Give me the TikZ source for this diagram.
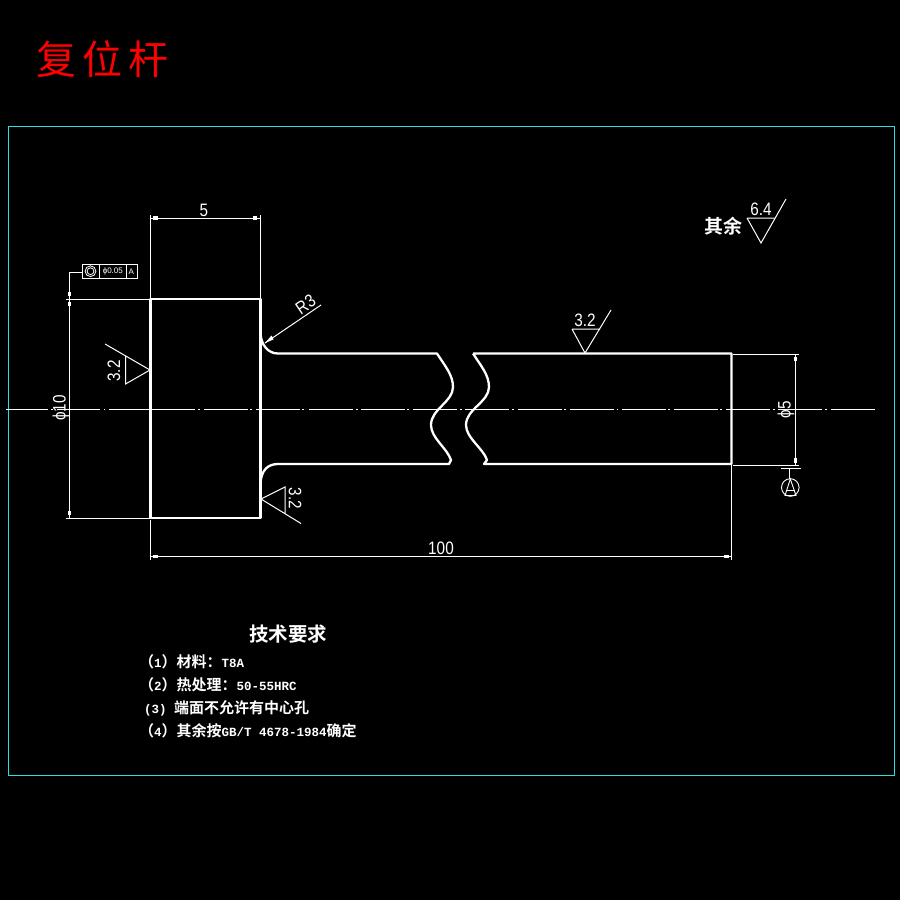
\documentclass[tikz,border=0pt]{standalone}
\usepackage{fontspec}
\setmainfont{Liberation Sans}
\newfontfamily\zh{Noto Sans CJK SC}[BoldFont=Noto Sans CJK SC Bold]
\newfontfamily\mn{Liberation Mono}[BoldFont=Liberation Mono Bold]
\newfontfamily\cad{Liberation Sans}[FakeStretch=0.85]
\newcommand{\cadfs}{\fontsize{18}{18}\selectfont\cad}
\definecolor{framecy}{RGB}{40,225,225}
\usetikzlibrary{calc}
\tikzset{
  thinl/.style={draw=white,line width=1pt},
  thick2/.style={draw=white,line width=2.3pt,line join=round},
  tick/.style={fill=white,draw=none,minimum width=3.4pt,minimum height=4.6pt,inner sep=0pt},
  cadtxt/.style={white,inner sep=0pt,font=\cadfs},
  item/.style={white,inner sep=0pt,anchor=base west,font=\fontsize{15}{15}\selectfont\zh\bfseries}
}
\newcommand{\mnb}[1]{{\fontsize{12.5}{12.5}\selectfont\mn\bfseries #1}}
\begin{document}
\begin{tikzpicture}[x=1pt,y=-1pt]
\path[fill=black] (0,0) rectangle (900,900);
\useasboundingbox (0,0) rectangle (900,900);
% frame
\draw[draw=framecy,line width=1pt] (8,126) rectangle (894,775);
% title
\node[red,inner sep=0,anchor=center,font=\fontsize{40}{40}\selectfont\zh] (title) at (102,59) {复\hspace{6pt}位\hspace{6pt}杆};
% centre line
\draw[thinl] (6,409) -- (48,409) (57,409) -- (100,409) (109,409) -- (195,409);
\foreach \s in {204,256,309,361,413,465,518,570,622,674,726,778,831}
  \draw[thinl] (\s,409) -- ++(43.5,0);
\foreach \s in {52,104.5,199,251,303,357,408,461,513,565,617.5,669,721,774,826}
  \fill[white] (\s-0.8,408.5) rectangle (\s+0.8,409.5);
% part outline
\draw[thick2] (150.5,299) rectangle (260.5,518);
\draw[thick2] (260.5,333) .. controls (261,345) and (268,353.5) .. (278,353.5) -- (437,353.5)
  .. controls (445,366) and (453,375) .. (453,387)
  .. controls (453,402) and (431,409) .. (431,425)
  .. controls (431,438) and (447,448) .. (451,460) -- (449,464) -- (278,464);
\draw[thick2] (278,464) .. controls (268,464) and (261,470) .. (260.5,484);
\draw[thick2] (473,353.5) -- (731.5,353.5) -- (731.5,464) -- (484,464) -- (487,460)
  .. controls (483,448) and (466,438) .. (466,425)
  .. controls (466,409) and (489,402) .. (489,387)
  .. controls (489,375) and (481,366) .. (473,353.5);
% dim 5
\draw[thinl] (150.5,298) -- (150.5,215) (260.5,298) -- (260.5,215) (150.5,218) -- (260.5,218);
\node[tick,rotate=90] (t1) at (155.5,218) {};
\node[tick,rotate=90] (t2) at (255,218) {};
\node[cadtxt] (d5) at (204,210) {5};
% dim phi10
\draw[thinl] (66,299) -- (150,299) (66,518) -- (150,518);
\draw[thinl] (82,272) -- (69.5,272) -- (69.5,518);
\node[tick] (t3) at (69.5,294) {};
\node[tick] (t4) at (69.5,304) {};
\node[tick] (t5) at (69.5,513) {};
\node[cadtxt,rotate=90] (d10) at (61,408) {ϕ10};
% feature frame
\draw[thinl] (82,264.5) rectangle (137,278) (99.5,264.5) -- (99.5,278) (126,264.5) -- (126,278);
\draw[white,line width=0.8pt] (90.5,271.2) circle (5.4) (90.5,271.2) circle (3.4);
\node[white,inner sep=0,font=\fontsize{8}{8}\selectfont] (tol) at (112.8,271.3) {ϕ0.05};
\node[white,inner sep=0,font=\fontsize{8}{8}\selectfont] (tola) at (131.3,271.3) {A};
% R3
\draw[thinl] (321,305) -- (265,343);
\fill[white] (265,343) -- (271.5,335.5) -- (273.5,339.5) -- cycle;
\node[cadtxt,rotate=34] (r3) at (305.5,304.5) {R3};
% roughness left
\draw[thinl] (105,344) -- (150,370) -- (125.5,384) -- (125.5,356);
\node[cadtxt,rotate=90] (s1) at (114,371) {3.2};
% roughness bottom
\draw[thinl] (301,523.5) -- (261,499) -- (285,487) -- (285,514);
\node[cadtxt,rotate=-90] (s2) at (295,498.5) {3.2};
% roughness top
\draw[thinl] (572,329) -- (600,329) (572,329) -- (585,353) -- (611,310);
\node[cadtxt] (s3) at (585,320) {3.2};
% roughness 6.4
\draw[thinl] (747,218) -- (774,218) (747,218) -- (761,243) -- (786,199);
\node[cadtxt] (s4) at (761,209) {6.4};
\node[white,inner sep=0,font=\fontsize{19}{19}\selectfont\zh\bfseries] (qy) at (723.5,226) {其余};
% dim phi5
\draw[thinl] (733,354.5) -- (799,354.5) (733,465) -- (799,465) (795.5,354.5) -- (795.5,465);
\node[tick] (t6) at (795.5,359) {};
\node[tick] (t7) at (795.5,460.5) {};
\node[cadtxt,rotate=90] (d6) at (786,410) {ϕ5};
% datum
\draw[thinl] (781,468.5) -- (801,468.5) (789.7,468.5) -- (789.7,479);
\draw[white,line width=0.9pt] (790.3,487.5) circle (8.8);
\draw[white,line width=0.9pt] (790.3,479) -- (785,495.5) -- (796,495.5) -- cycle (786.5,490.5) -- (794.5,490.5);
% dim 100
\draw[thinl] (150.5,520) -- (150.5,560) (731.5,465) -- (731.5,560) (150.5,556.5) -- (731.5,556.5);
\node[tick,rotate=90] (t8) at (155.5,556.5) {};
\node[tick,rotate=90] (t9) at (726.5,556.5) {};
\node[cadtxt] (d100) at (441,548) {100};
% notes
\node[white,inner sep=0,font=\fontsize{19.5}{19.5}\selectfont\zh\bfseries] (tr) at (288,634.5) {技术要求};
\node[item] (n1) at (139,667.5) {（\mnb{1}）材料：\mnb{T8A}};
\node[item] (n2) at (139,690.5) {（\mnb{2}）热处理：\mnb{50-55HRC}};
\node[item] (n3) at (144,713) {\mnb{(3) }端面不允许有中心孔};
\node[item] (n4) at (139,736) {（\mnb{4}）其余按\mnb{GB/T 4678-1984}确定};
\end{tikzpicture}
\end{document}
